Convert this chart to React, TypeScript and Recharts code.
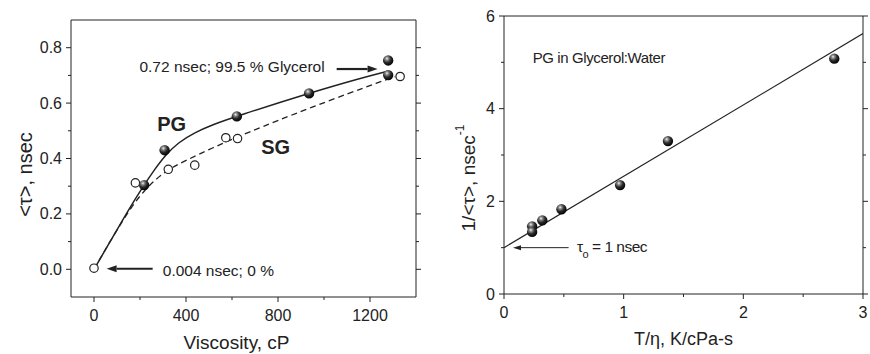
import React from 'react';
import { ComposedChart, Line, Scatter, XAxis, YAxis, ReferenceLine, ReferenceDot, Label } from 'recharts';

// left panel: lifetime vs viscosity
const pgViscosity = [218, 307, 621, 935, 1279, 1279];
const pgTau = [0.304, 0.43, 0.552, 0.635, 0.754, 0.701];
const sgViscosity = [0, 180, 323, 438, 573, 624, 1331];
const sgTau = [0.004, 0.312, 0.361, 0.376, 0.475, 0.472, 0.696];

// fit curves
const pgFitViscosity = [0, 76, 148, 214, 265, 308, 366, 439, 512, 621, 934, 1159, 1280];
const pgFitTau = [0, 0.108, 0.212, 0.3, 0.362, 0.41, 0.458, 0.494, 0.521, 0.553, 0.636, 0.69, 0.716];
const sgFitViscosity = [0, 134, 221, 308, 396, 512, 650, 941, 1276, 1310];
const sgFitTau = [0, 0.193, 0.29, 0.354, 0.392, 0.437, 0.488, 0.584, 0.687, 0.695];

const viscTicks = [0, 200, 400, 600, 800, 1000, 1200];
const viscLabels = [0, 400, 800, 1200];
const tauTicks = [0, 0.1, 0.2, 0.3, 0.4, 0.5, 0.6, 0.7, 0.8];
const tauLabels = [0, 0.2, 0.4, 0.6, 0.8];

// right panel: 1/tau vs T/eta
const tOverEta = [0.235, 0.235, 0.32, 0.48, 0.97, 1.37, 2.76];
const invTau = [1.46, 1.34, 1.59, 1.83, 2.35, 3.3, 5.08];
const fitTOverEta = [0, 3];
const fitInvTau = [1, 5.62];

const tetaTicks = [0, 0.5, 1, 1.5, 2, 2.5, 3];
const tetaLabels = [0, 1, 2, 3];
const invTicks = [0, 1, 2, 3, 4, 5, 6];
const invLabels = [0, 2, 4, 6];

const zip = (xs: number[], ys: number[]) => xs.map((x, i) => ({ x, y: ys[i] }));

const FONT = '"Liberation Sans", Arial, sans-serif';
const INK = '#222';

type Side = 'bottom' | 'top' | 'left' | 'right';

const axisTick = (side: Side, majors: number[], showLabel: boolean, fmt: (v: number) => string) => (props: any) => {
  const { x, y, payload } = props;
  const v = payload.value;
  const major = majors.includes(v);
  const len = major ? 5 : 3;
  let line;
  if (side === 'bottom') line = <line x1={x} y1={y} x2={x} y2={y + len} />;
  else if (side === 'top') line = <line x1={x} y1={y} x2={x} y2={y - len} />;
  else if (side === 'left') line = <line x1={x} y1={y} x2={x - len} y2={y} />;
  else line = <line x1={x} y1={y} x2={x + len} y2={y} />;
  let text = null;
  if (showLabel && major) {
    if (side === 'bottom') {
      text = <text x={x} y={y + 24} textAnchor="middle" fill={INK} stroke="none" fontSize={16} fontFamily={FONT}>{fmt(v)}</text>;
    } else {
      text = <text x={x - 9} y={y + 5.5} textAnchor="end" fill={INK} stroke="none" fontSize={16} fontFamily={FONT}>{fmt(v)}</text>;
    }
  }
  return (
    <g stroke={INK} strokeWidth={1}>
      {line}
      {text}
    </g>
  );
};

const arrow = (width: number, head: number, headW: number) => (p: any) => {
  const { x1, y1, x2, y2 } = p;
  const dir = Math.sign(x2 - x1);
  const bx = x2 - dir * head;
  return (
    <g>
      <line x1={x1} y1={y1} x2={bx} y2={y2} stroke={INK} strokeWidth={width} />
      <polygon points={`${x2},${y2} ${bx},${y2 - headW} ${bx},${y2 + headW}`} fill={INK} />
    </g>
  );
};

const note = (text: React.ReactNode, size: number, anchor: string, weight = 'normal', spacing = 0) => (p: any) => (
  <text x={p.cx} y={p.cy} textAnchor={anchor} fontSize={size} fontWeight={weight} letterSpacing={spacing} fill={INK} fontFamily={FONT}>
    {text}
  </text>
);

const sphere = (id: string) => (p: any) => <circle cx={p.cx} cy={p.cy} r={5.2} fill={`url(#${id})`} />;
const ring = (p: any) => <circle cx={p.cx} cy={p.cy} r={4.2} fill="#fff" stroke={INK} strokeWidth={1.2} />;

const SphereDef = ({ id }: { id: string }) => (
  <defs>
    <radialGradient id={id} cx="38%" cy="32%" r="70%">
      <stop offset="0%" stopColor="#f4f4f4" />
      <stop offset="22%" stopColor="#8a8a8a" />
      <stop offset="55%" stopColor="#2a2a2a" />
      <stop offset="100%" stopColor="#000" />
    </radialGradient>
  </defs>
);

const LifetimePanel = () => (
  <ComposedChart width={430} height={354} margin={{ top: 19, right: 13, bottom: 0, left: 10 }}>
    <SphereDef id="sphereL" />
    <XAxis
      type="number"
      dataKey="x"
      domain={[-100, 1400]}
      ticks={viscTicks}
      height={57}
      tickSize={0}
      tickMargin={0}
      stroke={INK}
      tick={axisTick('bottom', viscLabels, true, (v) => String(v))}
      allowDataOverflow
    >
      <Label
        content={(p: any) => (
          <text x={p.viewBox.x + p.viewBox.width / 2 - 7} y={p.viewBox.y + 52} textAnchor="middle" fontSize={19} fill={INK} fontFamily={FONT}>
            Viscosity, cP
          </text>
        )}
      />
    </XAxis>
    <XAxis xAxisId="top" orientation="top" type="number" domain={[-100, 1400]} ticks={viscTicks} height={1} tickSize={0} tickMargin={0} stroke={INK} tick={axisTick('top', viscLabels, false, String)} allowDataOverflow />
    <YAxis
      type="number"
      dataKey="y"
      domain={[-0.1, 0.9]}
      ticks={tauTicks}
      width={61}
      tickSize={0}
      tickMargin={0}
      stroke={INK}
      tick={axisTick('left', tauLabels, true, (v) => v.toFixed(1))}
      allowDataOverflow
    >
      <Label
        content={(p: any) => (
          <text transform={`translate(${p.viewBox.x + 15},${p.viewBox.y + p.viewBox.height / 2 + 16}) rotate(-90)`} textAnchor="middle" dominantBaseline="central" fontSize={20} fill={INK} fontFamily={FONT}>
            {'<τ>, nsec'}
          </text>
        )}
      />
    </YAxis>
    <YAxis yAxisId="right" orientation="right" type="number" domain={[-0.1, 0.9]} ticks={tauTicks} width={1} tickSize={0} tickMargin={0} stroke={INK} tick={axisTick('right', tauLabels, false, String)} allowDataOverflow />

    <Line data={zip(pgFitViscosity, pgFitTau)} dataKey="y" type="basis" stroke={INK} strokeWidth={1.5} dot={false} isAnimationActive={false} />
    <Line data={zip(sgFitViscosity, sgFitTau)} dataKey="y" type="basis" stroke={INK} strokeWidth={1.3} strokeDasharray="6 4" dot={false} isAnimationActive={false} />
    <Scatter data={zip(sgViscosity, sgTau)} shape={ring} isAnimationActive={false} />
    <Scatter data={zip(pgViscosity, pgTau)} shape={sphere('sphereL')} isAnimationActive={false} />

    <ReferenceLine segment={[{ x: 1055, y: 0.723 }, { x: 1233, y: 0.723 }]} shape={arrow(2.2, 10, 3.5)} />
    <ReferenceLine segment={[{ x: 255, y: 0.002 }, { x: 55, y: 0.002 }]} shape={arrow(2.2, 10, 3.5)} />
    <ReferenceDot x={1003} y={0.714} shape={note('0.72 nsec; 99.5 % Glycerol', 15.5, 'end')} />
    <ReferenceDot x={299} y={-0.0235} shape={note('0.004 nsec; 0 %', 15.5, 'start')} />
    <ReferenceDot x={338} y={0.5} shape={note('PG', 20, 'middle', 'bold')} />
    <ReferenceDot x={790} y={0.416} shape={note('SG', 20, 'middle', 'bold')} />
  </ComposedChart>
);

const RatePanel = () => (
  <ComposedChart width={440} height={354} margin={{ top: 15, right: 6, bottom: 0, left: 4 }}>
    <SphereDef id="sphereR" />
    <XAxis
      type="number"
      dataKey="x"
      domain={[0, 3]}
      ticks={tetaTicks}
      height={60}
      tickSize={0}
      tickMargin={0}
      stroke={INK}
      tick={axisTick('bottom', tetaLabels, true, (v) => String(v))}
      allowDataOverflow
    >
      <Label
        content={(p: any) => (
          <text x={p.viewBox.x + p.viewBox.width / 2} y={p.viewBox.y + 51} textAnchor="middle" fontSize={18} fill={INK} fontFamily={FONT}>
            T/η, K/cPa-s
          </text>
        )}
      />
    </XAxis>
    <XAxis xAxisId="top" orientation="top" type="number" domain={[0, 3]} ticks={tetaTicks} height={1} tickSize={0} tickMargin={0} stroke={INK} tick={axisTick('top', tetaLabels, false, String)} allowDataOverflow />
    <YAxis
      type="number"
      dataKey="y"
      domain={[0, 6]}
      ticks={invTicks}
      width={70}
      tickSize={0}
      tickMargin={0}
      stroke={INK}
      tick={axisTick('left', invLabels, true, (v) => String(v))}
      allowDataOverflow
    >
      <Label
        content={(p: any) => (
          <text transform={`translate(${p.viewBox.x + 34},${p.viewBox.y + p.viewBox.height / 2 + 23}) rotate(-90)`} textAnchor="middle" dominantBaseline="central" fontSize={19} fill={INK} fontFamily={FONT}>
            {'1/<τ>, nsec'}
            <tspan fontSize={12} dy={-8}>-1</tspan>
          </text>
        )}
      />
    </YAxis>
    <YAxis yAxisId="right" orientation="right" type="number" domain={[0, 6]} ticks={invTicks} width={1} tickSize={0} tickMargin={0} stroke={INK} tick={axisTick('right', invLabels, false, String)} allowDataOverflow />

    <Line data={zip(fitTOverEta, fitInvTau)} dataKey="y" type="linear" stroke={INK} strokeWidth={1.2} dot={false} isAnimationActive={false} />
    <Scatter data={zip(tOverEta, invTau)} shape={sphere('sphereR')} isAnimationActive={false} />

    <ReferenceLine segment={[{ x: 0.54, y: 1 }, { x: 0.075, y: 1 }]} shape={arrow(1, 8, 2.5)} />
    <ReferenceDot x={0.24} y={4.99} shape={note('PG in Glycerol:Water', 15, 'start', 'normal', -0.4)} />
    <ReferenceDot
      x={0.61}
      y={0.906}
      shape={note(
        <>
          τ<tspan fontSize={11} dy={6}>o</tspan>
          <tspan dy={-6}> = 1 nsec</tspan>
        </>,
        15.5,
        'start',
        'normal',
        -0.5
      )}
    />
  </ComposedChart>
);

export default function App() {
  return (
    <div style={{ position: 'absolute', left: 0, top: 0, width: 870, height: 354, background: '#fff' }}>
      <div style={{ position: 'absolute', left: 0, top: 0 }}>
        <LifetimePanel />
      </div>
      <div style={{ position: 'absolute', left: 430, top: 0 }}>
        <RatePanel />
      </div>
    </div>
  );
}
